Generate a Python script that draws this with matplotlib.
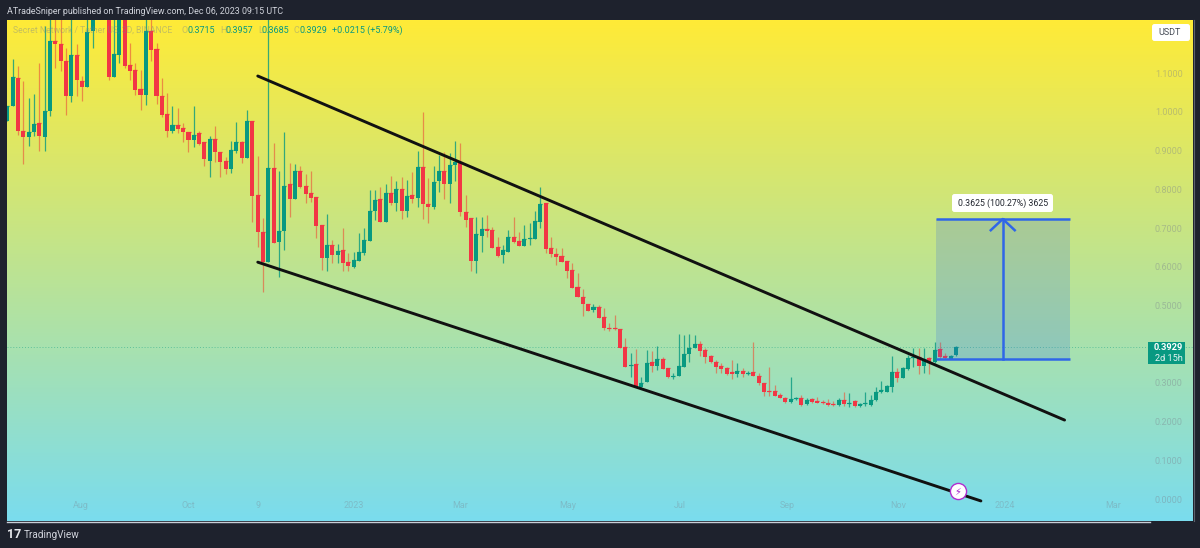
import numpy as np
import matplotlib
matplotlib.use("Agg")
import matplotlib.pyplot as plt
from matplotlib.patches import FancyBboxPatch, Rectangle

# ---- data (prices) ----
direction = ("GGRRGGRGGR" "RRGRRGGGGR" "GGRRRRGRRR" "RGRRRGRRGR" "RRGGRGRRRG"
             "RGGRGRRRRR" "GRGRRGGGGG" "RGRGRGRGRR" "GGRGGRRRGG" "RRRGGRRGGG"
             "GRRRRRRRRR" "GRRRRRRGRG" "GRGRRGGGGG" "RRRRRRRGRG" "RRRRRRRGGR"
             "GRRRRRGRGR" "GGGGGGGRGG" "GRGRGRRGG")
body_high = [1.016,1.090,1.088,.951,.948,.969,.972,1.003,1.183,1.183,
 1.176,1.132,1.147,1.147,1.080,1.207,1.264,1.36,1.36,1.30,
 1.150,1.264,1.264,1.121,1.109,1.059,1.209,1.209,1.163,1.041,
 .995,.966,.966,.959,.948,.941,.946,.922,.930,.930,
 .897,.873,.902,.922,.922,.977,.977,.786,.690,.855,
 .855,.692,.809,.814,.848,.848,.809,.791,.780,.708,
 .656,.656,.641,.643,.612,.618,.638,.669,.744,.773,
 .775,.791,.791,.801,.801,.783,.786,.858,.858,.762,
 .819,.848,.848,.863,.871,.871,.742,.726,.685,.698,
 .698,.695,.651,.643,.677,.677,.667,.672,.674,.718,
 .762,.765,.649,.633,.628,.615,.592,.548,.522,.504,
 .496,.496,.470,.442,.442,.439,.393,.346,.349,.300,
 .351,.354,.362,.362,.339,.318,.344,.375,.390,.401,
 .401,.385,.370,.354,.344,.339,.328,.331,.331,.326,
 .328,.318,.300,.279,.279,.269,.261,.258,.261,.261,
 .256,.258,.253,.251,.248,.245,.256,.256,.248,.253,
 .245,.248,.256,.276,.282,.292,.328,.328,.339,.364,
 .367,.367,.362,.364,.385,.388,.370,.370,.3929]
body_low = [.977,1.016,.951,.935,.935,.948,.938,.935,1.003,1.176,
 1.132,1.041,1.041,1.083,1.065,1.065,1.209,1.26,1.26,1.090,
 1.090,1.147,1.119,1.106,1.057,1.044,1.044,1.160,1.041,.992,
 .951,.951,.956,.948,.928,.928,.917,.879,.873,.897,
 .871,.853,.853,.899,.881,.881,.783,.690,.612,.612,
 .661,.664,.692,.775,.775,.806,.788,.778,.705,.623,
 .623,.630,.630,.610,.602,.599,.615,.636,.667,.744,
 .716,.716,.765,.765,.744,.744,.775,.778,.762,.755,
 .755,.822,.814,.814,.863,.742,.721,.615,.615,.680,
 .692,.649,.628,.630,.638,.664,.654,.654,.672,.672,
 .716,.646,.633,.625,.612,.589,.545,.522,.504,.486,
 .488,.468,.442,.439,.439,.390,.341,.344,.289,.289,
 .302,.344,.344,.336,.315,.315,.318,.341,.375,.390,
 .382,.367,.354,.341,.336,.323,.323,.323,.323,.323,
 .318,.300,.276,.276,.266,.261,.251,.251,.258,.243,
 .245,.251,.248,.248,.243,.243,.243,.245,.245,.240,
 .240,.245,.243,.256,.276,.276,.289,.313,.313,.336,
 .364,.344,.344,.351,.354,.367,.364,.362,.3715]
wick_high = [1.016,1.137,1.119,1.080,1.036,1.047,1.127,1.222,1.264,1.264,
 1.264,1.165,1.264,1.176,1.093,1.264,1.30,1.40,1.40,1.34,
 1.264,1.30,1.30,1.178,1.127,1.109,1.264,1.264,1.178,1.088,
 1.049,1.016,1.010,.972,.948,1.016,.951,.922,.938,.964,
 .897,.884,.925,.974,.925,1.005,.977,.886,.726,1.264,
 .920,.848,.948,.868,.866,.860,.840,.848,.780,.708,
 .736,.669,.659,.700,.636,.638,.687,.700,.798,.798,
 .806,.814,.835,.822,.832,.824,.845,.899,1.000,.829,
 .860,.889,.897,.894,.925,.920,.786,.726,.729,.729,
 .734,.703,.677,.656,.695,.729,.690,.708,.713,.744,
 .806,.765,.677,.649,.649,.615,.610,.584,.543,.504,
 .504,.501,.494,.455,.475,.439,.416,.377,.388,.315,
 .385,.382,.395,.367,.339,.326,.426,.424,.426,.424,
 .408,.390,.372,.359,.351,.341,.359,.351,.339,.331,
 .406,.326,.300,.341,.295,.274,.264,.315,.264,.269,
 .261,.261,.264,.256,.258,.253,.261,.276,.274,.256,
 .248,.276,.269,.289,.305,.295,.370,.339,.341,.372,
 .390,.390,.390,.367,.406,.406,.377,.372,.3957]
wick_low = [.977,1.016,.941,.866,.912,.938,.899,.899,.990,1.114,
 1.106,.992,1.026,1.041,1.028,1.065,1.165,1.26,1.26,1.083,
 1.090,1.127,1.114,1.083,1.044,1.005,1.018,1.132,1.021,.987,
 .935,.946,.946,.922,.897,.909,.915,.860,.832,.871,
 .832,.840,.842,.894,.868,.881,.716,.651,.535,.612,
 .661,.574,.643,.729,.775,.804,.765,.767,.674,.592,
 .589,.610,.610,.589,.589,.597,.615,.630,.667,.721,
 .716,.716,.760,.744,.724,.729,.765,.755,.724,.713,
 .749,.793,.775,.765,.822,.731,.703,.589,.584,.638,
 .677,.649,.625,.610,.638,.661,.654,.654,.656,.672,
 .700,.636,.625,.605,.612,.571,.545,.522,.473,.486,
 .483,.468,.437,.434,.437,.390,.341,.315,.289,.287,
 .302,.328,.333,.336,.313,.310,.318,.341,.354,.390,
 .370,.351,.351,.326,.326,.320,.310,.315,.315,.320,
 .318,.295,.266,.266,.266,.261,.248,.248,.256,.240,
 .243,.248,.248,.245,.240,.240,.240,.240,.238,.238,
 .238,.240,.240,.253,.274,.276,.276,.302,.313,.333,
 .341,.323,.326,.323,.351,.362,.362,.362,.3685]

price_ticks = [1.1,1.0,.9,.8,.7,.6,.5,.3,.2,.1,0.0]
time_pos = [13.8,33.9,47,65,85,105.2,126.2,146.3,167.1,187.2,207.5]
time_labels = ["Aug","Oct","9","2023","Mar","May","Jul","Sep","Nov","2024","Mar"]
upper_x, upper_y = [47.0,198.4], [1.093,.204]
lower_x, lower_y = [47.0,182.7], [.612,-.005]
proj_x = [174.2,199.4]
proj_low, proj_high = .3605, .7235
proj_mid = 186.8
last_price = .3929

W, H = 1200, 548
DARK = "#1e222d"; RED = "#f23645"; GREEN = "#089981"; BLUE = "#2f66e8"
plt.rcParams["font.family"] = ["Roboto", "DejaVu Sans"]

fig = plt.figure(figsize=(W/100, H/100), dpi=100, facecolor=DARK)
ax = fig.add_axes([7/W, 1-521/H, (1193-7)/W, (521-20)/H])
ax.set_xlim(-0.056, 222.5)
ax.set_ylim(-.0568, 1.2377)
for s in ax.spines.values():
    s.set_visible(False)

# gradient background
top = np.array([255,235,55])/255; bot = np.array([122,220,238])/255
t = np.linspace(0,1,256)[:,None,None]
grad = top[None,None,:]*(1-t) + bot[None,None,:]*t
ax.imshow(grad, aspect="auto", extent=(0,1,0,1), transform=ax.transAxes, zorder=0)
ax.set_xlim(-0.056, 222.5); ax.set_ylim(-.0568, 1.2377)

# candles
idx = np.arange(len(direction))
up = np.array([c == "G" for c in direction])
bh, bl, wh, wl = map(np.array, (body_high, body_low, wick_high, wick_low))
ax.vlines(idx[~up], wl[~up], wh[~up], color="#ea5a3c", lw=0.9, alpha=0.65, zorder=2)
ax.vlines(idx[up], wl[up], wh[up], color=GREEN, lw=0.9, alpha=0.8, zorder=2)
ax.bar(idx[~up], (bh-bl)[~up], bottom=bl[~up], width=0.76, color=RED, lw=0, zorder=3)
ax.bar(idx[up], (bh-bl)[up], bottom=bl[up], width=0.76, color=GREEN, lw=0, zorder=3)
# thin bodies stay visible
ax.hlines(bh, idx-.38, idx+.38, color=[GREEN if u else RED for u in up], lw=0.9, zorder=3)

# last price line
ax.axhline(last_price, color=GREEN, lw=0.7, ls=(0,(1,2)), alpha=0.45, zorder=1)

# projection
ax.add_patch(Rectangle((proj_x[0], proj_low), proj_x[1]-proj_x[0], proj_high-proj_low,
                       facecolor=BLUE, alpha=0.2, lw=0, zorder=4))
ax.hlines([proj_low, proj_high], proj_x[0], proj_x[1], color=BLUE, lw=1.8, zorder=5)
ax.plot([proj_mid, proj_mid], [proj_low, proj_high], color=BLUE, lw=1.8, zorder=5)
ax.plot([proj_mid-2.25, proj_mid, proj_mid+2.25], [proj_high-.029, proj_high, proj_high-.029],
        color=BLUE, lw=1.8, zorder=5)

# channel lines
ax.plot(upper_x, upper_y, color="#111111", lw=2.1, zorder=6, solid_capstyle="round")
ax.plot(lower_x, lower_y, color="#111111", lw=2.1, zorder=6, solid_capstyle="round")

# axes labels inside the plot
ax.set_yticks(price_ticks, [f"{v:.4f}" for v in price_ticks])
ax.yaxis.tick_right()
ax.tick_params(axis="y", length=0, pad=-27.5, labelsize=6.5, labelcolor=(0.48,0.5,0.55,0.42))
ax.set_xticks(time_pos, time_labels)
ax.tick_params(axis="x", length=0, pad=-14.5, labelsize=6.5, labelcolor=(0.48,0.5,0.55,0.35))

# overlay in pixel coords
ov = fig.add_axes([0,0,1,1], facecolor="none")
ov.set_xlim(0,W); ov.set_ylim(H,0); ov.axis("off")

ov.text(7, 11, "ATradeSniper published on TradingView.com, Dec 06, 2023 09:15 UTC",
        color="#d1d4dc", fontsize=6.4, va="center", ha="left")
ov.text(13, 30.5, "Secret Network / Tether US, 3D, BINANCE", color=(0.45,0.5,0.58,0.42),
        fontsize=6.2, va="center")
for x, s, c in [(182,"O",0),(187,"0.3715",1),(220,"H",0),(226,"0.3957",1),(258,"L",0),
                (262,"0.3685",1),(294,"C",0),(299,"0.3929",1),(332,"+0.0215 (+5.79%)",1)]:
    ov.text(x, 30.5, s, color=GREEN if c else (0.45,0.5,0.58,0.42), fontsize=6.5, va="center")

def box(x0, y0, x1, y1, fc, r=2.5):
    ov.add_patch(FancyBboxPatch((x0+r, y0+r), x1-x0-2*r, y1-y0-2*r,
                                boxstyle=f"round,pad={r},rounding_size={r}", fc=fc, ec="none", zorder=7))

box(1152, 24, 1190, 41, "white")
ov.text(1170, 32.5, "USDT", color="#444a55", fontsize=6.5, ha="center", va="center", zorder=8)
box(952, 194, 1053, 212, "white")
ov.text(1003, 203, "0.3625 (100.27%) 3625", color="#222630", fontsize=6.3, ha="center", va="center", zorder=8)
ov.add_patch(Rectangle((1148, 342), 37, 22, fc=GREEN, ec="none", zorder=7))
ov.text(1168.5, 348, "0.3929", color="white", fontsize=6.7, fontweight="bold", ha="center", va="center", zorder=8)
ov.text(1168.5, 358.5, "2d 15h", color="#e8f5f2", fontsize=6.6, ha="center", va="center", zorder=8)

# lightning badge
ov.scatter([958], [491], s=135, facecolor="white", edgecolor="#b02fd0", linewidth=1.0, zorder=8)
ov.text(958, 491.5, "\u26a1", color="#a020c8", fontsize=7, ha="center", va="center", zorder=9,
        family="DejaVu Sans")

# chart bottom rule and footer
ov.plot([7, 1150], [521.5, 521.5], color="#c9ced6", lw=1.0, zorder=8)
ov.plot([1193.5, 1193.5], [20, 521], color="#5c616c", lw=0.8, zorder=8)
ov.text(7, 535, "17", color="#e6e8ec", fontsize=9, fontweight="bold", va="center")
ov.text(24, 535, "TradingView", color="#d1d4dc", fontsize=7.2, va="center")

fig.savefig("out.png", dpi=100, facecolor=DARK)
